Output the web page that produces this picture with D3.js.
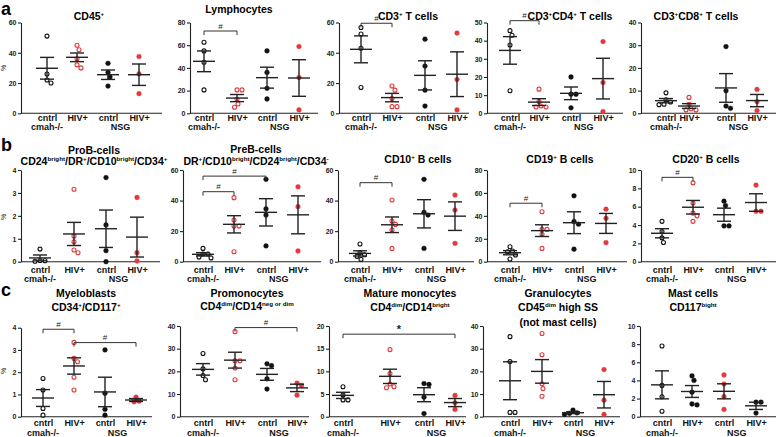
<!DOCTYPE html>
<html><head><meta charset="utf-8">
<script src="https://cdnjs.cloudflare.com/ajax/libs/d3/7.8.5/d3.min.js"></script>
<style>body{margin:0;background:#fff} svg{display:block;font-family:"Liberation Sans",Arial,sans-serif}</style>
</head><body><svg id="chart" width="778" height="437"></svg>
<script>
// ---------- categories ----------
const groupKeys = ["cmahCntrl","cmahHIV","nsgCntrl","nsgHIV"];
const groupLabels = ["cntrl","HIV+","cntrl","HIV+"];
const strainLabels = ["cmah-/-","NSG"];

// ---------- values (% per animal, per group) ----------
const cd45      = [[51,26,22,20],[45,42,36,32,30],[33,27,24,18],[37.5,26,13]];
const lympho    = [[62.6,55,45,20.6],[20.6,20.6,12.4,8.2,5.3],[55,36,22,12.6],[58.8,31.5,3]];
const cd3       = [[56.7,52.4,43,17],[18,15.3,9.8,4.4,4.4],[49,31.2,15.3,4.8],[53,22.3,2.2]];
const cd3cd4    = [[45.5,43,37.6,12.4],[13.3,6.5,4,3.5,3.5],[20,10.5,10.5,3],[39.5,16.9,0.9]];
const cd3cd8    = [[9,6,5,4,3.8],[7,4,2,1.5,1.5],[29.4,9.9,3.2,2.2],[10.5,5.1,1.2]];
const proB      = [[0.55,0.05,0.04,0.02],[3.16,1.12,0.87,0.51,0.39],[3.67,1.6,0.48,0],[2.8,0.39,0.03]];
const preB      = [[8.7,5,5,3,2.5],[41.9,27.3,23.3,23.3,6.5],[53.9,34.5,30.5,10.3],[49,36,7]];
const cd10      = [[11.6,6,4.5,3.5,1.5],[40.4,26.6,24.4,20.7,8.7],[53.9,32.3,30.5,8.7],[43.6,33.8,12]];
const cd19      = [[13.1,9.3,8.7,5.8,2.3],[43.6,28.2,28.2,23.9,11.6],[57.5,35,32.7,10.9],[45.8,37.8,16.6]];
const cd20      = [[4.4,3.3,2.6,2.1],[8.6,6.4,5.3,5.0,4.4],[6.6,6.1,3.9,3.9],[8.36,5.5,5.5]];
const myelo     = [[1.72,1.2,0.37,0.07],[3.34,2.62,2.47,1.77,1.2],[3.0,1.05,0.33,0.07],[0.88,0.7,0.67]];
const promono   = [[27.9,21.1,18.2,16.3],[37.5,24.7,24.7,21.5,16.3],[23.3,22.5,16.7,12.2],[14.8,13.8,9.5]];
const matureMono= [[6.6,4.8,3.7,3.7],[14.8,9.5,7.2,6.6,6.4],[7.1,7.3,4.3,0.7],[4.7,3.05,1.6]];
const granulo   = [[35.3,24.3,1.9,1.9],[36.7,27.3,14.5,12.4,9],[1.7,1.0,1.45,2.9],[20.8,7.3,1.0]];
const mast      = [[7.8,3.45,2.2,0.6],[4.0,4.5,2.7,1.4,1.3],[4.6,3.6,2.2,0.8],[1.6,1.6,0.4]];

// ---------- tick labels ----------
const ticks60 = [0,20,40,60];
const ticks80 = [0,20,40,60,80];
const ticks50 = [0,10,20,30,40,50];
const ticks40 = [0,10,20,30,40];
const ticks4  = [0,1,2,3,4];
const ticks10 = [0,2,4,6,8,10];
const ticks20 = [0,5,10,15,20];

// ---------- significance brackets [from group, to group, value, label] ----------
const lymphoSig = [[0,1,72.5,"#"]];
const cd3Sig    = [[0,1,59.5,"#"]];
const cd3cd4Sig = [[0,1,51,"#"]];
const preBSig   = [[0,1,45.8,"#"],[0,2,56,"#"]];
const cd10Sig   = [[0,1,51.7,"#"]];
const cd19Sig   = [[0,1,51,"#"]];
const cd20Sig   = [[0,1,9.2,"#"]];
const myeloSig  = [[0,1,3.93,"#"],[1,3,3.33,"#"]];
const promonoSig= [[1,3,39.3,"#"]];
const matureSig = [[0,3,18.2,"*"]];

// ---------- marker styles ----------
const defaultMarks = ["openBlack","openRed","fillBlack","fillRed"];
const mastMarks = ["openBlack","fillBlack","fillRed","fillBlack"];
const RED = "#e23a3c", BLACK = "#111";

// ---------- layout ----------
const rows = [
  {top:22.5, bottom:113.3, lab1:121, lab2:130.3, letter:"a", letterY:15, pctY:68},
  {top:170,  bottom:261.7, lab1:272.5, lab2:281.8, letter:"b", letterY:151, pctY:217},
  {top:326,  bottom:416.7, lab1:426,   lab2:435.7, letter:"c", letterY:296, pctY:371}
];
const panels = [
  {data:cd45, ticks:ticks60, sig:[], row:0, axisX:21, endX:162, gx:[47,77,108,139], titleX:89, titleY:[20], title:["CD45^{+}"]},
  {data:lympho, ticks:ticks80, sig:lymphoSig, row:0, axisX:190, endX:318, gx:[204,237,267,299], titleX:239, titleY:[13], title:["Lymphocytes"]},
  {data:cd3, ticks:ticks60, sig:cd3Sig, row:0, axisX:339, endX:469, gx:[361,392,425,457], titleX:408, titleY:[20], title:["CD3^{+} T cells"]},
  {data:cd3cd4, ticks:ticks50, sig:cd3cd4Sig, row:0, axisX:487, endX:623, gx:[510,539,571,603], titleX:570, titleY:[20], title:["CD3^{+}CD4^{+} T cells"]},
  {data:cd3cd8, ticks:ticks40, sig:[], row:0, axisX:641, endX:776, gx:[666,689,726,757], titleX:696, titleY:[20], title:["CD3^{+}CD8^{+} T cells"]},

  {data:proB, ticks:ticks4, sig:[], row:1, axisX:21, endX:160, gx:[40,74,106,137], titleX:94, titleY:[154,165], title:["ProB-cells","CD24^{bright}/DR^{+}/CD10^{bright}/CD34^{+}"]},
  {data:preB, ticks:ticks60, sig:preBSig, row:1, axisX:183, endX:321, gx:[203,234,266,298], titleX:256, titleY:[153,165], title:["PreB-cells","DR^{+}/CD10^{bright}/CD24^{bright}/CD34^{-}"]},
  {data:cd10, ticks:ticks60, sig:cd10Sig, row:1, axisX:338, endX:474, gx:[360,392,424,455], titleX:418, titleY:[163], title:["CD10^{+} B cells"]},
  {data:cd19, ticks:ticks80, sig:cd19Sig, row:1, axisX:487, endX:627, gx:[510,542,574,606], titleX:560, titleY:[163], title:["CD19^{+} B cells"]},
  {data:cd20, ticks:ticks10, sig:cd20Sig, row:1, axisX:641, endX:776, gx:[662,693,724,756], titleX:706, titleY:[163], title:["CD20^{+} B cells"]},

  {data:myelo, ticks:ticks4, sig:myeloSig, row:2, axisX:21, endX:152, gx:[43,74,105,136], titleX:86, titleY:[297,311], title:["Myeloblasts","CD34^{+}/CD117^{+}"], top:327.7},
  {data:promono, ticks:ticks40, sig:promonoSig, row:2, axisX:180, endX:309, gx:[203,235,267,297], titleX:247, titleY:[297,310], title:["Promonocytes","CD4^{dim}/CD14^{neg or dim}"]},
  {data:matureMono, ticks:ticks20, sig:matureSig, row:2, axisX:329, endX:466, gx:[343,390,424,455], titleX:410, titleY:[297,311], title:["Mature monocytes","CD4^{dim}/CD14^{bright}"]},
  {data:granulo, ticks:ticks40, sig:[], row:2, axisX:483, endX:620, gx:[510,542,573,604], titleX:558, titleY:[297,311,326], title:["Granulocytes","CD45^{dim} high SS","(not mast cells)"]},
  {data:mast, ticks:ticks10, sig:[], row:2, axisX:640, endX:776, gx:[662,692,724,756], titleX:693, titleY:[297,311], title:["Mast cells","CD117^{bight}"], marks:mastMarks}
];

const svg = d3.select("#chart");
const TITLE_SIZE = 10.5, SUP_SIZE = 6.2;

function richText(textSel, str, size, supSize) {
  const parts = str.split(/(\^\{[^}]*\})/).filter(s => s.length);
  let up = false;
  parts.forEach(p => {
    if (p.startsWith("^{")) {
      textSel.append("tspan").attr("font-size", supSize).attr("dy", up ? 0 : -size*0.4).text(p.slice(2,-1));
      up = true;
    } else {
      textSel.append("tspan").attr("font-size", size).attr("dy", up ? size*0.4 : 0).text(p);
      up = false;
    }
  });
}

function swarm(pys, minDist) {
  const order = pys.map((p,i)=>i).sort((a,b)=>pys[a]-pys[b]);
  const placed = [];
  const offs = new Array(pys.length).fill(0);
  order.forEach(i => {
    const py = pys[i];
    for (let k = 0; k < 80; k++) {
      const cands = k === 0 ? [0] : [k*0.5, -k*0.5];
      let ok = null;
      for (const c of cands) {
        if (placed.every(p => Math.hypot(p.x - c, p.y - py) >= minDist)) { ok = c; break; }
      }
      if (ok !== null) { offs[i] = ok; placed.push({x:ok, y:py}); break; }
    }
  });
  return offs;
}

// panel letters and % labels
rows.forEach(r => {
  svg.append("text").attr("x", 1).attr("y", r.letterY).attr("font-size", 18).attr("font-weight", "bold").attr("fill", "#000").text(r.letter);
  svg.append("text").attr("transform", `translate(6,${r.pctY}) rotate(-90)`).attr("text-anchor","middle")
    .attr("font-size", 7).attr("fill", "#222").text("%");
});

panels.forEach(p => {
  const r = rows[p.row];
  const top = p.top || r.top;
  const y = d3.scaleLinear().domain([0, d3.max(p.ticks)]).range([r.bottom, top]);
  const x = d3.scaleOrdinal().domain(groupKeys).range(p.gx);
  const marks = p.marks || defaultMarks;
  const g = svg.append("g");

  // y axis
  const ya = g.append("g").attr("transform", `translate(${p.axisX},0)`)
    .call(d3.axisLeft(y).tickValues(p.ticks).tickFormat(d => String(d)).tickSize(3).tickSizeOuter(0).tickPadding(1.5));
  ya.selectAll("path,line").attr("stroke", "#222").attr("stroke-width", 1.1);
  ya.selectAll("text").attr("font-size", 7).attr("font-weight", "bold").attr("fill", "#222").attr("font-family", "Liberation Sans, Arial, sans-serif");

  // x axis baseline
  g.append("line").attr("x1", p.axisX).attr("x2", p.endX).attr("y1", r.bottom).attr("y2", r.bottom)
    .attr("stroke", "#222").attr("stroke-width", 1.1);
  // category labels
  const xa = g.append("g").attr("transform", `translate(0,${r.bottom})`)
    .call(d3.axisBottom(x).tickSize(0).tickFormat((d,i) => groupLabels[i]));
  xa.select(".domain").remove();
  xa.selectAll("text").attr("y", 0).attr("dy", 0).attr("transform", `translate(0,${r.lab1 - r.bottom})`)
    .attr("font-size", 9).attr("font-weight", "bold").attr("fill", "#111").attr("font-family", "Liberation Sans, Arial, sans-serif");
  // strain labels
  const strainX = [x(groupKeys[0]), x(groupKeys[2]) + 0.4*(x(groupKeys[3]) - x(groupKeys[2]))];
  strainLabels.forEach((s,i) => {
    g.append("text").attr("x", strainX[i]).attr("y", r.lab2).attr("text-anchor","middle")
      .attr("font-size", 9).attr("font-weight","bold").attr("fill","#111").text(s);
  });

  // title
  p.title.forEach((t,i) => {
    const tx = g.append("text").attr("x", p.titleX).attr("y", p.titleY[i]).attr("text-anchor","middle")
      .attr("font-weight","bold").attr("fill","#000");
    richText(tx, t, TITLE_SIZE, SUP_SIZE);
  });

  // data
  p.data.forEach((vals, gi) => {
    const cx = x(groupKeys[gi]);
    const m = d3.mean(vals);
    const sem = d3.deviation(vals) / Math.sqrt(vals.length);
    const style = marks[gi];
    const isRed = style.endsWith("Red");
    const isOpen = style.startsWith("open");
    const col = isRed ? RED : BLACK;
    const pys = vals.map(v => y(v));
    const offs = swarm(pys, 4.8);
    g.append("g").selectAll("circle").data(vals).join("circle")
      .attr("cx", (d,i) => cx + offs[i]).attr("cy", d => y(d))
      .attr("r", isOpen ? 2.0 : 2.4)
      .attr("fill", isOpen ? "#fff" : col)
      .attr("stroke", col).attr("stroke-width", isOpen ? 1.1 : 0.4);
    // mean and SEM
    const lc = "#222";
    g.append("line").attr("x1", cx-11).attr("x2", cx+11).attr("y1", y(m)).attr("y2", y(m)).attr("stroke", lc).attr("stroke-width", 1.4);
    g.append("line").attr("x1", cx).attr("x2", cx).attr("y1", y(m-sem)).attr("y2", y(m+sem)).attr("stroke", lc).attr("stroke-width", 1.4);
    [m-sem, m+sem].forEach(v => {
      g.append("line").attr("x1", cx-7).attr("x2", cx+7).attr("y1", y(v)).attr("y2", y(v)).attr("stroke", lc).attr("stroke-width", 1.4);
    });
  });

  // significance
  p.sig.forEach(([a,b,v,lab]) => {
    const xa_ = x(groupKeys[a]), xb = x(groupKeys[b]), yy = y(v);
    g.append("path").attr("d", `M${xa_},${yy+4}V${yy}H${xb}V${yy+4}`)
      .attr("fill","none").attr("stroke","#333").attr("stroke-width",1);
    g.append("text").attr("x", (xa_+xb)/2).attr("y", lab === "*" ? yy-1 : yy-2.5).attr("text-anchor","middle")
      .attr("font-size", lab === "*" ? 11 : 8).attr("font-weight", lab === "*" ? "bold" : "normal").attr("fill","#222").text(lab);
  });
});
</script></body></html>
